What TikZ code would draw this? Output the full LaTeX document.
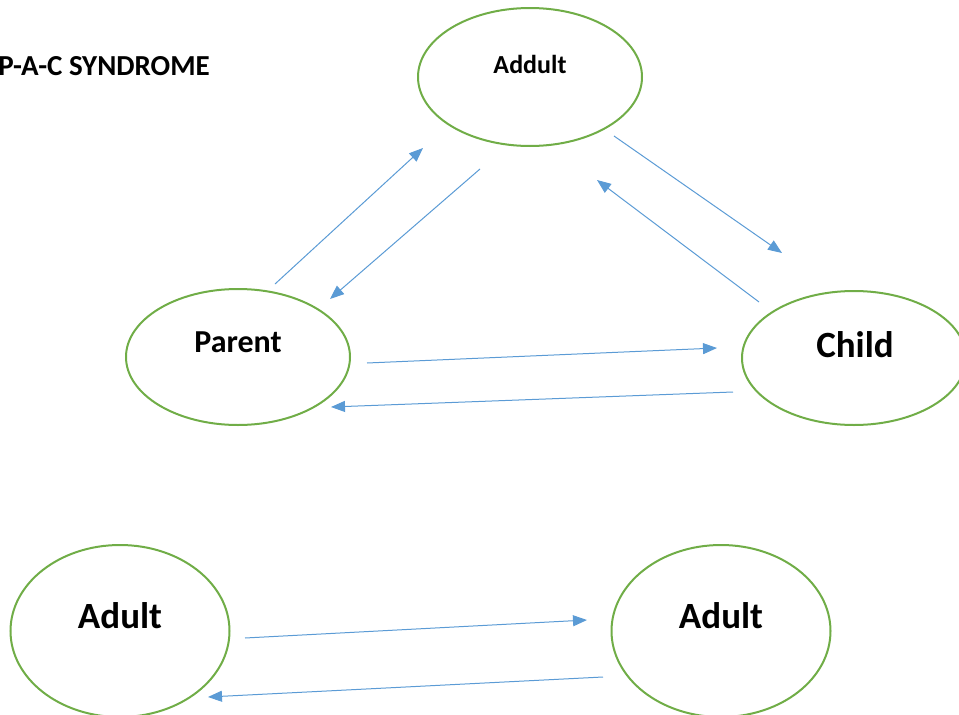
\documentclass[tikz,border=0pt]{standalone}
\usepackage{fontspec}
\setmainfont{Carlito}
\usetikzlibrary{arrows.meta,shapes.geometric}
\definecolor{pacgreen}{HTML}{70AD47}
\definecolor{pacblue}{HTML}{5B9BD5}
\tikzset{
  pacell/.style={draw=pacgreen, line width=2pt, ellipse, inner sep=0pt},
  flow/.style={draw=pacblue, line width=1pt, -{Triangle[length=14pt,width=11pt]}},
  lbl/.style={font=\bfseries, inner sep=0pt, anchor=center}
}
\begin{document}
\begin{tikzpicture}[x=1pt,y=-1pt]
\useasboundingbox (0,0) rectangle (959,715);
\clip (0,0) rectangle (959,715);
% ellipses
\node[pacell, minimum width=224pt, minimum height=138pt] (addult) at (530,77) {};
\node[pacell, minimum width=224pt, minimum height=136pt] (parent) at (238,357) {};
\node[pacell, minimum width=224pt, minimum height=134pt] (child) at (854,358) {};
\node[pacell, minimum width=219pt, minimum height=172pt] (adultL) at (120,631) {};
\node[pacell, minimum width=219pt, minimum height=172pt] (adultR) at (721,631) {};
% labels
\node[lbl, font=\bfseries\fontsize{26}{30}\selectfont] (addulttxt) at (530,64) {Addult};
\node[lbl, font=\bfseries\fontsize{32}{38}\selectfont] (parenttxt) at (238,342) {Parent};
\node[lbl, font=\bfseries\fontsize{37}{44}\selectfont] (childtxt) at (855,345) {Child};
\node[lbl, font=\bfseries\fontsize{37}{44}\selectfont] (adultLtxt) at (120,616) {Adult};
\node[lbl, font=\bfseries\fontsize{37}{44}\selectfont] (adultRtxt) at (721,616) {Adult};
\node[lbl, font=\bfseries\fontsize{29}{34}\selectfont, anchor=east] (title) at (210,66) {P-A-C SYNDROME};
% arrow end points
\coordinate (pa1) at (275,284); \coordinate (pa2) at (423,148);
\coordinate (ap1) at (480,169); \coordinate (ap2) at (330,299);
\coordinate (ac1) at (614,136); \coordinate (ac2) at (782,253);
\coordinate (ca1) at (759,302); \coordinate (ca2) at (597,180);
\coordinate (pc1) at (367,363); \coordinate (pc2) at (717,348);
\coordinate (cp1) at (733,392); \coordinate (cp2) at (331,407);
\coordinate (ll1) at (245,638); \coordinate (ll2) at (587,620);
\coordinate (rr1) at (603,677); \coordinate (rr2) at (208,697);
% arrows
\draw[flow] (pa1) -- (pa2);
\draw[flow] (ap1) -- (ap2);
\draw[flow] (ac1) -- (ac2);
\draw[flow] (ca1) -- (ca2);
\draw[flow] (pc1) -- (pc2);
\draw[flow] (cp1) -- (cp2);
\draw[flow] (ll1) -- (ll2);
\draw[flow] (rr1) -- (rr2);
\end{tikzpicture}
\end{document}
